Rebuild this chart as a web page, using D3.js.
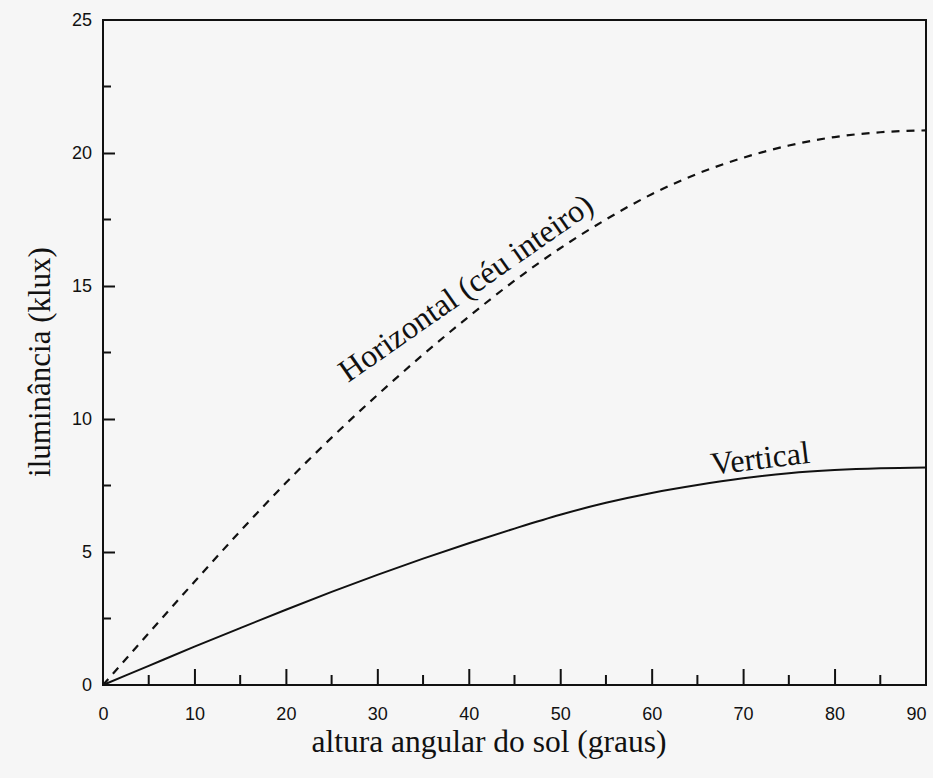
<!DOCTYPE html>
<html>
<head>
<meta charset="utf-8">
<script src="https://cdn.jsdelivr.net/npm/d3@7"></script>
<style>
  html, body { margin: 0; padding: 0; background: #f6f6f6; }
  svg { display: block; }
</style>
</head>
<body>
<svg id="chart" width="933" height="778"></svg>
<script>
// ---- data ----
const angles = [0, 5, 10, 15, 20, 25, 30, 35, 40, 45, 50, 55, 60, 65, 70, 75, 80, 85, 90];
const horizontal = [0, 1.95, 3.88, 5.78, 7.6, 9.3, 10.9, 12.42, 13.85, 15.2, 16.42, 17.5, 18.45, 19.22, 19.82, 20.28, 20.6, 20.78, 20.85];
const vertical = [0, 0.72, 1.44, 2.14, 2.83, 3.5, 4.14, 4.75, 5.33, 5.88, 6.4, 6.85, 7.22, 7.52, 7.77, 7.96, 8.08, 8.15, 8.18];
const xTicks = [0, 10, 20, 30, 40, 50, 60, 70, 80, 90];
const xMinor = [5, 15, 25, 35, 45, 55, 65, 75, 85];
const yTicks = [0, 5, 10, 15, 20, 25];
const yMinor = [2.5, 7.5, 12.5, 17.5, 22.5];
const labelHorizontal = "Horizontal (céu inteiro)";
const labelVertical = "Vertical";
const xTitle = "altura angular do sol (graus)";
const yTitle = "iluminância (klux)";

// ---- layout ----
(function () {
const svg = d3.select("#chart");
const mLeft = 103, mRight = 926, mTop = 20, mBottom = 685;
const x = d3.scaleLinear().domain([0, 90]).range([mLeft, mRight]);
const y = d3.scaleLinear().domain([0, 25]).range([mBottom, mTop]);
const ink = "#111";

// frame
svg.append("rect")
  .attr("x", mLeft).attr("y", mTop)
  .attr("width", mRight - mLeft).attr("height", mBottom - mTop)
  .attr("fill", "none").attr("stroke", ink).attr("stroke-width", 2);

// bottom axis: inward ticks
const xAxis = d3.axisBottom(x).tickValues(xTicks).tickSize(-16).tickPadding(22)
  .tickFormat(d3.format("d"));
const gx = svg.append("g").attr("transform", `translate(0,${mBottom})`).call(xAxis);
gx.select(".domain").remove();
gx.selectAll(".tick line").attr("stroke", ink).attr("stroke-width", 2);
gx.selectAll(".tick").filter(d => d === 0 || d === 90).select("line").remove();
gx.selectAll(".tick text").attr("font-family", "Liberation Sans, Arial, sans-serif")
  .attr("font-size", 18).attr("fill", ink);
gx.selectAll(".tick").filter(d => d === 90).select("text").attr("dx", -10);
svg.append("g").selectAll("line").data(xMinor).join("line")
  .attr("x1", d => x(d)).attr("x2", d => x(d))
  .attr("y1", mBottom).attr("y2", mBottom - 10)
  .attr("stroke", ink).attr("stroke-width", 2);

// left axis: inward ticks
const yAxis = d3.axisLeft(y).tickValues(yTicks).tickSize(-12).tickPadding(11)
  .tickFormat(d3.format("d"));
const gy = svg.append("g").attr("transform", `translate(${mLeft},0)`).call(yAxis);
gy.select(".domain").remove();
gy.selectAll(".tick line").attr("stroke", ink).attr("stroke-width", 2);
gy.selectAll(".tick").filter(d => d === 0 || d === 25).select("line").remove();
gy.selectAll(".tick text").attr("font-family", "Liberation Sans, Arial, sans-serif")
  .attr("font-size", 18).attr("fill", ink);
svg.append("g").selectAll("line").data(yMinor).join("line")
  .attr("x1", mLeft).attr("x2", mLeft + 8)
  .attr("y1", d => y(d)).attr("y2", d => y(d))
  .attr("stroke", ink).attr("stroke-width", 2);

// curves
const line = vals => d3.line()
  .x((d, i) => x(angles[i]))
  .y(d => y(d))
  .curve(d3.curveMonotoneX)(vals);

svg.append("path").attr("d", line(horizontal))
  .attr("fill", "none").attr("stroke", ink).attr("stroke-width", 2.2)
  .attr("stroke-dasharray", "8,7");
svg.append("path").attr("d", line(vertical))
  .attr("fill", "none").attr("stroke", ink).attr("stroke-width", 2);

// curve labels
const serif = "Liberation Serif, Times New Roman, serif";
svg.append("text")
  .attr("transform", `translate(${x(26.8)},${y(11.35)}) rotate(-35)`)
  .attr("font-family", serif).attr("font-size", 32).attr("fill", ink)
  .text(labelHorizontal);
svg.append("text")
  .attr("transform", `translate(${x(66.6)},${y(7.9)}) rotate(-7)`)
  .attr("font-family", serif).attr("font-size", 32).attr("fill", ink)
  .text(labelVertical);

// axis titles
svg.append("text")
  .attr("x", 489).attr("y", 752)
  .attr("text-anchor", "middle")
  .attr("font-family", serif).attr("font-size", 31.5).attr("fill", ink)
  .text(xTitle);
svg.append("text")
  .attr("transform", `translate(50,362) rotate(-90)`)
  .attr("text-anchor", "middle")
  .attr("font-family", serif).attr("font-size", 31).attr("fill", ink)
  .text(yTitle);
})();
</script>
</body>
</html>
